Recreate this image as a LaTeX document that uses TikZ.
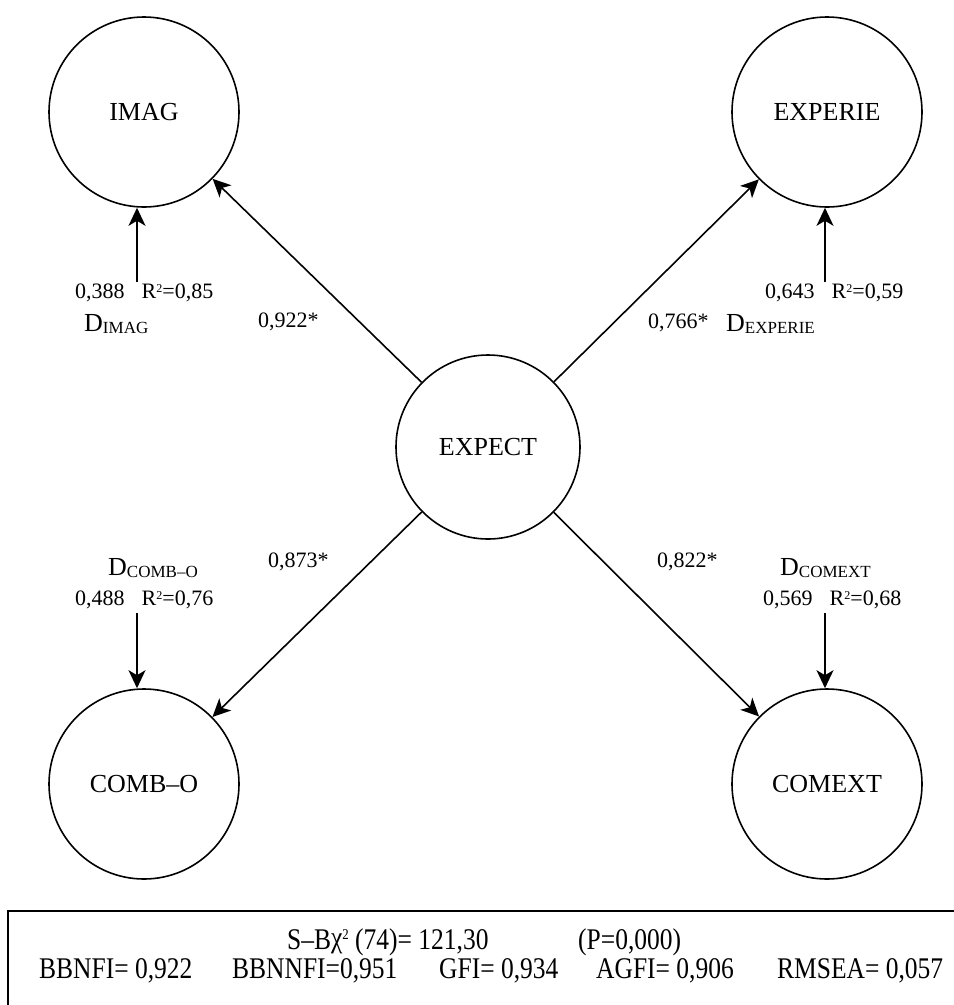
\documentclass[tikz,border=0pt]{standalone}
\usepackage{fontspec}
\setmainfont{Liberation Serif}
\newfontfamily\statfont[FakeStretch=0.85]{Liberation Serif}
\usetikzlibrary{arrows.meta}

\tikzset{
  latent/.style={draw, circle, line width=1.6pt, inner sep=0pt, minimum size=190pt,
    font=\fontsize{26}{30}\selectfont},
  conn/.style={-{Stealth[length=18pt,width=17pt,inset=5pt]}, line width=1.6pt},
  coef/.style={anchor=base west, inner sep=0pt, font=\fontsize{22}{26}\selectfont},
  dist/.style={anchor=base west, inner sep=0pt, font=\fontsize{26}{30}\selectfont},
  stat/.style={anchor=base west, inner sep=0pt, font=\statfont\fontsize{30}{34}\selectfont}
}
\newcommand{\dsub}[1]{D\raisebox{-2pt}{\fontsize{17}{17}\selectfont #1}}
\newcommand{\sqr}{\raisebox{6pt}{\fontsize{12}{12}\selectfont 2}}
\newcommand{\rsq}{R\sqr}
\newcommand{\chisq}{\raisebox{2pt}{χ}\raisebox{10pt}{\fontsize{15}{15}\selectfont 2}}

\begin{document}
\begin{tikzpicture}[x=1pt,y=-1pt]
\useasboundingbox (0,0) rectangle (954,1005);
\clip (0,0) rectangle (954,1005);

\node[latent] (imag) at (144,112) {IMAG};
\node[latent] (experie) at (827,112) {EXPERIE};
\node[latent, minimum size=184pt] (expect) at (488,447) {EXPECT};
\node[latent] (combo) at (144,784) {COMB–O};
\node[latent] (comext) at (827,784) {COMEXT};

\draw[conn] (expect) -- (imag);
\draw[conn] (expect) -- (experie);
\draw[conn] (expect) -- (combo);
\draw[conn] (expect) -- (comext);

\node[coef] (gimag) at (258,327) {0,922*};
\node[coef] (gexperie) at (648,328) {0,766*};
\node[coef] (gcombo) at (268,567) {0,873*};
\node[coef] (gcomext) at (657,567) {0,822*};

% disturbances
\node[coef] (rimag) at (75,298) {0,388\hspace{17pt}\rsq=0,85};
\node[dist] (dimag) at (84,331) {\dsub{IMAG}};
\coordinate (eimag) at (137,282);
\draw[conn] (eimag) -- (eimag |- imag.south);

\node[coef] (rexperie) at (765,298) {0,643\hspace{17pt}\rsq=0,59};
\node[dist] (dexperie) at (726,331) {\dsub{EXPERIE}};
\coordinate (eexperie) at (825,282);
\draw[conn] (eexperie) -- (eexperie |- experie.south);

\node[dist] (dcombo) at (108,575) {\dsub{COMB–O}};
\node[coef] (rcombo) at (75,605) {0,488\hspace{17pt}\rsq=0,76};
\coordinate (ecombo) at (137,613);
\draw[conn] (ecombo) -- (ecombo |- combo.north);

\node[dist] (dcomext) at (780,575) {\dsub{COMEXT}};
\node[coef] (rcomext) at (763,605) {0,569\hspace{17pt}\rsq=0,68};
\coordinate (ecomext) at (825,613);
\draw[conn] (ecomext) -- (ecomext |- comext.north);

% fit indices
\draw[line width=2.5pt] (8,1020) -- (8,911) -- (970,911);
\node[stat] (chi) at (287,949) {S–B\chisq{} (74)= 121,30};
\node[stat] (pval) at (578,949) {(P=0,000)};
\node[stat] (bbnfi) at (39,978) {BBNFI= 0,922};
\node[stat] (bbnnfi) at (232,978) {BBNNFI=0,951};
\node[stat] (gfi) at (439,978) {GFI= 0,934};
\node[stat] (agfi) at (596,978) {AGFI= 0,906};
\node[stat] (rmsea) at (777,978) {RMSEA= 0,057};
\end{tikzpicture}
\end{document}
